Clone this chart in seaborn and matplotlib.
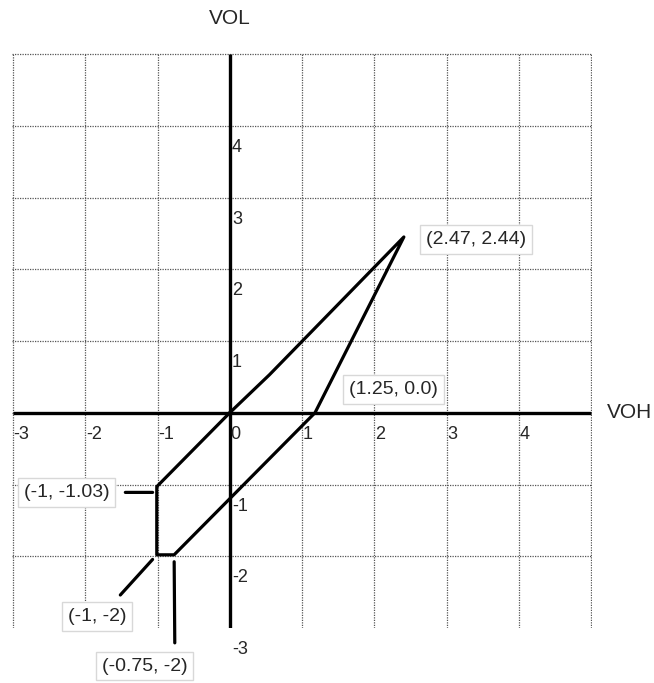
import numpy as np
import pandas as pd
import matplotlib
matplotlib.use("Agg")
import matplotlib.pyplot as plt
import seaborn as sns

# grid / tick values
x_grid = [-3, -2, -1, 0, 1, 2, 3, 4, 5]
y_grid = [-2, -1, 0, 1, 2, 3, 4, 5]
x_tick_labels = [-3, -2, -1, 0, 1, 2, 3, 4]
y_tick_labels = [4, 3, 2, 1, -1, -2, -3]

# polygon outline (VOH, VOL), in drawing order
poly_x = [0, 0.55, 2.41, 1.18, -0.77, -1.01, -1.01, 0]
poly_y = [0, 0.53, 2.45, 0.0, -1.98, -1.98, -1.03, 0]

# labelled points
lab_text = ["(2.47, 2.44)", "(1.25, 0.0)", "(-1, -1.03)", "(-1, -2)", "(-0.75, -2)"]
lab_x = [3.41, 2.27, -2.26, -1.84, -1.18]
lab_y = [2.41, 0.32, -1.11, -2.84, -3.53]
lab_pt_x = [None, None, -1.01, -1.01, -0.77]
lab_pt_y = [None, None, -1.11, -1.98, -1.98]
lab_relpos = [None, None, (1.0, 0.5), (0.7, 1.0), (0.855, 1.0)]
lab_shrink = [None, None, (7, 3), (6.5, 4.5), (6, 5)]

sns.set_theme(style="white")
plt.rcParams['font.family'] = ['Liberation Sans', 'DejaVu Sans']

W, H = 654, 683
px_x, px_y = 72.25, 71.75
xlim = (-3.02, 5.02)
ylim = (-3.0, 5.02)
left_px = 13 - (x_grid[0] - xlim[0]) * px_x
bottom_px = H - 628
fig = plt.figure(figsize=(W / 100, H / 100), dpi=100)
ax = fig.add_axes([left_px / W, bottom_px / H,
                   (xlim[1] - xlim[0]) * px_x / W, (ylim[1] - ylim[0]) * px_y / H])
ax.set_xlim(*xlim)
ax.set_ylim(*ylim)
ax.set_xticks(x_grid)
ax.set_yticks(y_grid)
ax.grid(True, linestyle=(0, (1, 1)), color='#555555', linewidth=0.9)
ax.tick_params(length=0, labelbottom=False, labelleft=False)
for s in ax.spines.values():
    s.set_visible(False)

# main axes through the origin
ax.plot([x_grid[0], x_grid[-1]], [0, 0], color='black', lw=2.4, solid_capstyle='butt', zorder=3)
ax.plot([0, 0], [-3.03, y_grid[-1]], color='black', lw=2.4, solid_capstyle='butt', zorder=3)

df = pd.DataFrame({"VOH": poly_x, "VOL": poly_y})
sns.lineplot(data=df, x="VOH", y="VOL", sort=False, estimator=None,
             color='black', lw=2.3, ax=ax, zorder=4)
ax.set_xlabel("")
ax.set_ylabel("")

for v in x_tick_labels:
    ax.text(v + 0.01, -0.31, str(v), ha='left', va='center', fontsize=13, clip_on=False)
for v in y_tick_labels:
    ax.text(0.03, v - 0.3, str(v), ha='left', va='center', fontsize=13, clip_on=False)

ax.text(0, 5.5, "VOL", ha='center', va='center', fontsize=15, clip_on=False)
ax.text(5.22, 0, "VOH", ha='left', va='center', fontsize=15, clip_on=False)

box = dict(boxstyle='square,pad=0.3', fc='white', ec='#d8d8d8', lw=1)
for i, t in enumerate(lab_text):
    if lab_pt_x[i] is None:
        ax.text(lab_x[i], lab_y[i], t, ha='center', va='center', fontsize=14,
                bbox=box, zorder=5, clip_on=False)
    else:
        ax.annotate(t, xy=(lab_pt_x[i], lab_pt_y[i]), xytext=(lab_x[i], lab_y[i]),
                    ha='center', va='center', fontsize=14, bbox=box, zorder=5,
                    annotation_clip=False,
                    arrowprops=dict(arrowstyle='-', color='black', lw=2.3,
                                    relpos=lab_relpos[i],
                                    shrinkA=lab_shrink[i][0], shrinkB=lab_shrink[i][1]))

fig.savefig("out.png", dpi=100)
